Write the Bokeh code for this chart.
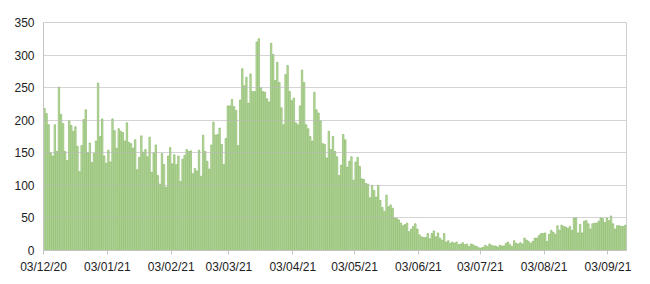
import pandas as pd
from bokeh.plotting import figure
from bokeh.models import ColumnDataSource, Range1d, FixedTicker
from bokeh.embed import file_html
from bokeh.resources import INLINE

# ---- data ----
start_date = "2020-12-03"
daily_values = [
    218, 210, 193, 150, 145, 193, 152, 251, 209, 195,
    152, 138, 199, 192, 183, 190, 160, 121, 161, 201,
    216, 150, 165, 135, 149, 168, 257, 175, 202, 145,
    134, 154, 136, 202, 184, 157, 187, 183, 181, 168,
    196, 166, 164, 157, 170, 124, 143, 176, 151, 155,
    144, 174, 120, 150, 162, 115, 102, 149, 132, 97,
    145, 158, 133, 147, 132, 145, 106, 140, 146, 155,
    152, 153, 118, 126, 122, 154, 114, 177, 152, 137,
    125, 162, 197, 177, 178, 188, 163, 132, 172, 222,
    222, 232, 221, 215, 161, 231, 279, 253, 266, 226,
    271, 244, 244, 320, 325, 250, 244, 243, 233, 228,
    318, 301, 261, 289, 258, 219, 193, 270, 284, 244,
    230, 234, 196, 193, 222, 277, 258, 193, 187, 175,
    168, 243, 216, 211, 199, 164, 163, 142, 183, 155,
    175, 152, 144, 115, 131, 178, 170, 128, 137, 144,
    108, 136, 143, 129, 110, 109, 103, 102, 81, 100,
    92, 82, 100, 77, 66, 60, 85, 67, 70, 65,
    50, 49, 47, 42, 38, 40, 42, 29, 33, 37,
    41, 33, 24, 21, 20, 20, 26, 18, 26, 30,
    21, 27, 19, 16, 26, 13, 15, 11, 13, 11,
    13, 9, 10, 12, 9, 10, 6, 10, 9, 7,
    6, 4, 4, 5, 8, 6, 10, 8, 7, 7,
    5, 8, 7, 7, 11, 13, 9, 6, 15, 11,
    10, 12, 10, 19, 16, 14, 11, 14, 19, 19,
    23, 26, 26, 27, 14, 25, 31, 28, 25, 38,
    31, 39, 37, 36, 34, 37, 31, 50, 50, 27,
    40, 27, 45, 46, 41, 33, 41, 42, 42, 45,
    50, 49, 43, 50, 46, 53, 41, 33, 38, 38,
    37, 37, 39,
]
tick_labels = ["03/12/20", "03/01/21", "03/02/21", "03/03/21", "03/04/21",
               "03/05/21", "03/06/21", "03/07/21", "03/08/21", "03/09/21"]
y_ticks = [0, 50, 100, 150, 200, 250, 300, 350]

# ---- build ----
dates = pd.date_range(start_date, periods=len(daily_values), freq="D")
x_centers = [(d - dates[0]).days + 0.5 for d in dates]
tick_dates = pd.to_datetime(tick_labels, format="%d/%m/%y")
tick_pos = [int((d - dates[0]).days) for d in tick_dates]

src = ColumnDataSource(dict(x=x_centers, v=daily_values))

p = figure(width=650, height=284, output_backend="svg", toolbar_location=None,
           x_range=Range1d(0, len(daily_values)), y_range=Range1d(0, 350),
           min_border_left=43, min_border_right=24, min_border_top=22,
           min_border_bottom=34)

p.vbar(x="x", top="v", bottom=0, width=0.7, source=src,
       fill_color="#a9d18e", fill_alpha=0.7,
       line_color="#78b050", line_width=0.6)

FONT = "Liberation Sans"
for ax in (p.xaxis[0], p.yaxis[0]):
    ax.major_label_text_font = FONT
    ax.major_label_text_font_size = "12px"
    ax.major_label_text_color = "#222222"
    ax.minor_tick_line_color = None
    ax.axis_line_color = "#c4c4c4"
    ax.major_tick_line_color = "#c4c4c4"
    ax.major_tick_in = 0

p.xaxis.ticker = FixedTicker(ticks=tick_pos)
p.xaxis.major_label_overrides = {pos: lab for pos, lab in zip(tick_pos, tick_labels)}
p.xaxis.major_tick_out = 4
p.xaxis.major_label_standoff = 5

p.yaxis.ticker = FixedTicker(ticks=y_ticks)
p.yaxis.major_tick_out = 0
p.yaxis.major_label_standoff = 9

p.xgrid.visible = False
p.ygrid.grid_line_color = "#b8b8b8"
p.ygrid.grid_line_alpha = 0.6
p.ygrid.grid_line_width = 1
p.ygrid.level = "guide"
p.outline_line_color = "#d0d0d0"
p.background_fill_color = "white"
p.border_fill_color = "white"

open("out.html", "w").write(file_html(p, INLINE))
